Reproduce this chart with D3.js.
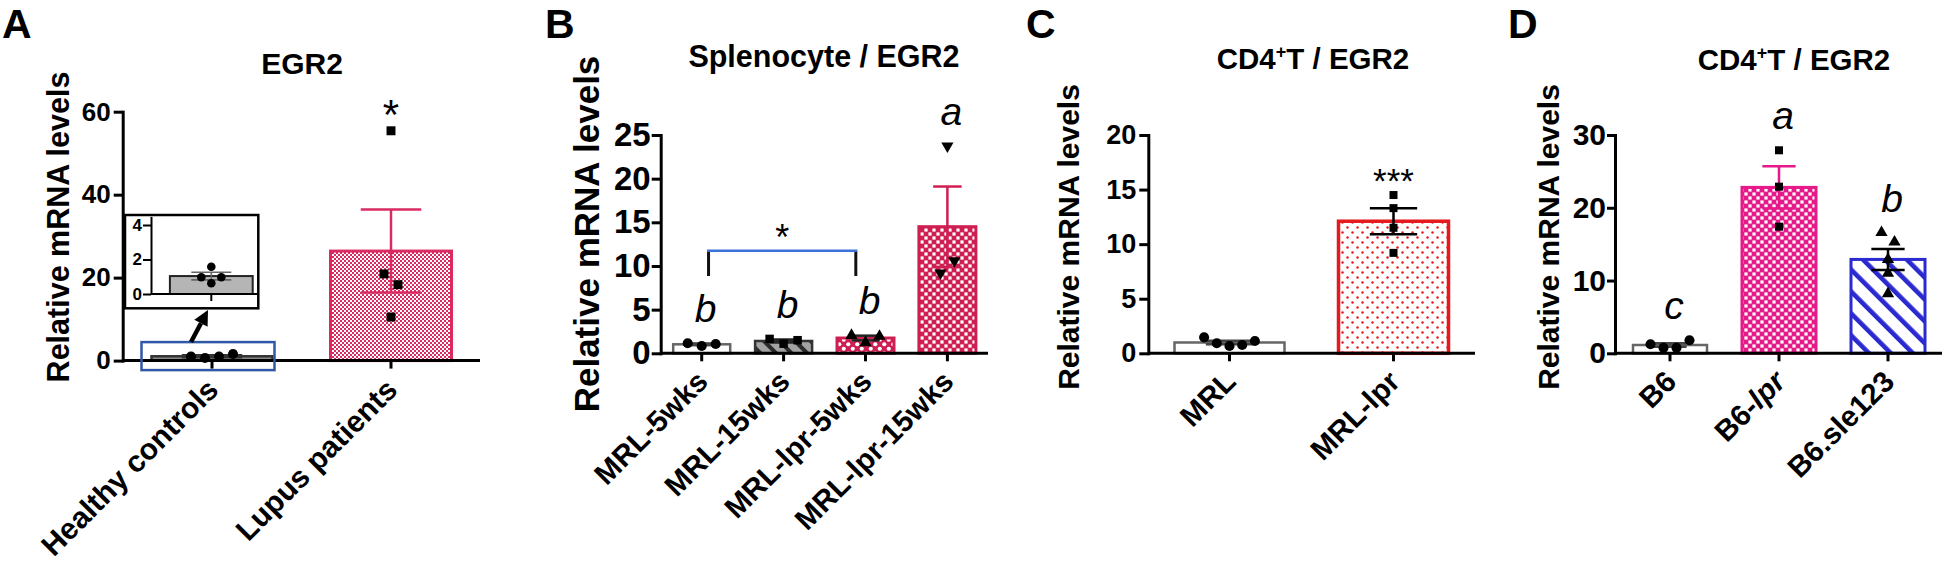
<!DOCTYPE html>
<html><head><meta charset="utf-8">
<script src="https://cdn.jsdelivr.net/npm/d3@7/dist/d3.min.js"></script>
<style>
html,body{margin:0;padding:0;background:#fff;overflow:hidden;}
</style></head><body>
<svg id="fig" width="1946" height="565" xmlns="http://www.w3.org/2000/svg"></svg>
<script>
// ================= DATA =================
// Panel A
const catsA = ["Healthy controls", "Lupus patients"];
const meanA = [1.04, 26.4];
const semA = [0.22, 10.0];
const pointsA = [[0.97, 0.62, 0.97, 1.58], [55.4, 20.9, 18.3, 10.5]];
const ticksA = [0, 20, 40, 60];
const ticksInset = [0, 2, 4];
const sigA = ["", "*"];
// Panel B
const catsB = ["MRL-5wks", "MRL-15wks", "MRL-lpr-5wks", "MRL-lpr-15wks"];
const meanB = [1.03, 1.41, 1.75, 14.5];
const semB = [0.1, 0.17, 0.27, 4.6];
const pointsB = [[1.15, 0.84, 1.07], [1.65, 1.1, 1.5], [2.05, 1.2, 1.95], [23.75, 9.2, 10.6]];
const ticksB = [0, 5, 10, 15, 20, 25];
const lettersB = ["b", "b", "b", "a"];
const bracketB = { from: 0, to: 2, level: 11.75, drop: 8.85, label: "*" };
// Panel C
const catsC = ["MRL", "MRL-lpr"];
const meanC = [0.99, 12.1];
const semC = [0.15, 1.2];
const pointsC = [[1.46, 0.92, 0.67, 0.76, 1.13], [14.5, 13.3, 11.5, 9.2]];
const ticksC = [0, 5, 10, 15, 20];
const sigC = ["", "***"];
// Panel D
const catsD = ["B6", "B6-lpr", "B6.sle123"];
const meanD = [1.14, 22.8, 12.9];
const semD = [0.25, 2.9, 1.45];
const pointsD = [[1.25, 0.75, 0.75, 1.8], [27.9, 22.9, 17.4], [16.6, 15.3, 12.9, 11.0, 8.2]];
const ticksD = [0, 10, 20, 30];
const lettersD = ["c", "a", "b"];

const yLabel = "Relative mRNA levels";

// ================= DRAWING =================
const FONT = '"Liberation Sans", Arial, Helvetica, sans-serif';
const svg = d3.select("#fig");
svg.append("rect").attr("width", 1946).attr("height", 565).attr("fill", "#fff");
const defs = svg.append("defs");

const CRIMSON = "#cf1f52", PINK = "#d92a62", RED = "#e51a1f", MAG = "#e6198a", BLUE = "#2a2ad0";

function checker(id, color, tile, sq, bg) {
  const p = defs.append("pattern").attr("id", id).attr("patternUnits", "userSpaceOnUse")
    .attr("width", tile).attr("height", tile);
  p.append("rect").attr("width", tile).attr("height", tile).attr("fill", bg);
  const h = tile / 2, o = (h - sq) / 2;
  p.append("rect").attr("x", o).attr("y", o).attr("width", sq).attr("height", sq).attr("fill", color === bg ? "#fff" : color);
  p.append("rect").attr("x", h + o).attr("y", h + o).attr("width", sq).attr("height", sq).attr("fill", color === bg ? "#fff" : color);
}
checker("chkA", PINK, 4, 2, "#fff");
checker("chkB", CRIMSON, 8, 3.2, CRIMSON);
checker("chkD", MAG, 8, 3.2, MAG);
(function () {
  const p = defs.append("pattern").attr("id", "dotsB").attr("patternUnits", "userSpaceOnUse").attr("width", 9).attr("height", 9);
  p.append("rect").attr("width", 9).attr("height", 9).attr("fill", CRIMSON);
  p.append("circle").attr("cx", 2.25).attr("cy", 2.25).attr("r", 2.1).attr("fill", "#fff");
  p.append("circle").attr("cx", 6.75).attr("cy", 6.75).attr("r", 2.1).attr("fill", "#fff");
})();
(function () {
  const p = defs.append("pattern").attr("id", "dotsC").attr("patternUnits", "userSpaceOnUse").attr("width", 10).attr("height", 10);
  p.append("rect").attr("width", 10).attr("height", 10).attr("fill", "#fff");
  p.append("circle").attr("cx", 2.5).attr("cy", 2.5).attr("r", 1.25).attr("fill", RED);
  p.append("circle").attr("cx", 7.5).attr("cy", 7.5).attr("r", 1.25).attr("fill", RED);
})();
function stripes(id, bg, col, tile, w) {
  const p = defs.append("pattern").attr("id", id).attr("patternUnits", "userSpaceOnUse")
    .attr("width", tile).attr("height", tile).attr("patternTransform", "rotate(-45)");
  p.append("rect").attr("width", tile).attr("height", tile).attr("fill", bg);
  p.append("rect").attr("x", 0).attr("y", 0).attr("width", w).attr("height", tile).attr("fill", col);
}
stripes("strGrey", "#a3a3a3", "#2b2b2b", 11, 4);
stripes("strBlue", "#fff", BLUE, 15.5, 4.6);

function spread(vals, y, thr, gap) {
  const idx = vals.map((v, i) => i).sort((a, b) => vals[a] - vals[b]);
  const groups = [];
  idx.forEach(i => {
    const last = groups[groups.length - 1];
    if (last && Math.abs(y(vals[i]) - y(vals[last[0]])) < thr) last.push(i); else groups.push([i]);
  });
  const off = new Array(vals.length).fill(0);
  groups.forEach(gr => { gr.sort((a, b) => a - b); gr.forEach((i, k) => off[i] = (k - (gr.length - 1) / 2) * gap); });
  return off;
}

const SYM = {
  circle: [d3.symbolCircle, 0], square: [d3.symbolSquare, 0],
  triangle: [d3.symbolTriangle, 0], triangleDown: [d3.symbolTriangle, 180]
};
function marker(g, type, x, y, size) {
  const [t, rot] = SYM[type];
  g.append("path").attr("d", d3.symbol().type(t).size(size[type])())
    .attr("transform", `translate(${x},${y}) rotate(${rot})`).attr("fill", "#000");
}

function drawPanel(cfg) {
  const g = svg.append("g");
  const n = cfg.cats.length;
  const s = cfg.step, pad = 1 - cfg.barW / s;
  const x = d3.scaleBand().domain(cfg.cats)
    .range([cfg.c0 - s / 2, cfg.c0 - s / 2 + n * s]).paddingInner(pad).paddingOuter(pad / 2);
  const y = d3.scaleLinear().domain([0, cfg.yMax]).range([cfg.y0, cfg.yTop]);
  const bw = x.bandwidth();
  const cx = c => x(c) + bw / 2;

  g.selectAll("rect.bar").data(cfg.cats).join("rect").attr("class", "bar")
    .attr("x", c => x(c)).attr("y", (c, i) => y(cfg.mean[i]))
    .attr("width", bw).attr("height", (c, i) => y(0) - y(cfg.mean[i]))
    .attr("fill", (c, i) => cfg.fill[i]).attr("stroke", (c, i) => cfg.stroke[i])
    .attr("stroke-width", (c, i) => cfg.barSW[i]);

  cfg.cats.forEach((c, i) => {
    const m = cfg.mean[i], e = cfg.sem[i], X = cx(c), hw = bw * cfg.capFrac / 2;
    const eg = g.append("g").attr("stroke", cfg.errCol[i]).attr("stroke-width", 2.5);
    eg.append("line").attr("x1", X).attr("x2", X).attr("y1", y(Math.max(0, m - e))).attr("y2", y(m + e));
    [m + e, m - e].forEach(v => eg.append("line").attr("x1", X - hw).attr("x2", X + hw).attr("y1", y(v)).attr("y2", y(v)));
  });

  cfg.cats.forEach((c, i) => {
    const vals = cfg.points[i];
    const off = spread(vals, y, cfg.thr, cfg.gap);
    vals.forEach((v, j) => marker(g, cfg.markers[i], cx(c) + off[j], y(v), cfg.msize));
  });

  const ya = g.append("g").attr("transform", `translate(${cfg.axX},0)`)
    .call(d3.axisLeft(y).tickValues(cfg.ticks).tickSize(cfg.tickLen).tickPadding(cfg.tickPad)
      .tickSizeOuter(0).tickFormat(d3.format("d")));
  ya.attr("font-family", FONT).attr("font-size", cfg.tickFont).attr("font-weight", "bold");
  ya.selectAll("path,line").attr("stroke", "#000").attr("stroke-width", 3);
  ya.select(".domain").attr("stroke-linecap", "square");
  ya.selectAll("text").attr("fill", "#000");

  g.append("line").attr("x1", cfg.axX).attr("x2", cfg.xEnd).attr("y1", cfg.y0).attr("y2", cfg.y0)
    .attr("stroke", "#000").attr("stroke-width", 3);
  const xa = g.append("g").attr("transform", `translate(0,${cfg.y0})`)
    .call(d3.axisBottom(x).tickSize(cfg.xTickLen).tickSizeOuter(0));
  xa.select(".domain").remove();
  xa.attr("font-family", FONT).attr("font-size", cfg.xFont).attr("font-weight", "bold");
  xa.selectAll("line").attr("stroke", "#000").attr("stroke-width", 3);
  xa.selectAll("text").attr("y", 0).attr("dy", 0).attr("fill", "#000")
    .attr("text-anchor", "end")
    .attr("transform", `translate(${cfg.lblDx},${cfg.lblDy}) rotate(-45)`)
    .each(function (d) {
      if (cfg.italicLpr && /-lpr$/.test(d)) {
        const t = d3.select(this); t.text("");
        t.append("tspan").text(d.replace(/lpr$/, ""));
        t.append("tspan").attr("font-style", "italic").text("lpr");
      }
    });

  g.append("text").attr("transform", `translate(${cfg.ylX},${cfg.ylY}) rotate(-90)`)
    .attr("text-anchor", "middle").attr("font-family", FONT).attr("font-weight", "bold")
    .attr("font-size", cfg.ylFont).attr("fill", "#000").text(yLabel);

  if (cfg.letters) {
    cfg.cats.forEach((c, i) => {
      const top = Math.max(d3.max(cfg.points[i]), cfg.mean[i] + cfg.sem[i]);
      g.append("text").attr("x", cx(c) + 4).attr("y", y(top) - 21)
        .attr("text-anchor", "middle").attr("font-family", FONT).attr("font-style", "italic")
        .attr("font-size", 39).attr("fill", "#000").text(cfg.letters[i]);
    });
  }
  if (cfg.stars) {
    cfg.cats.forEach((c, i) => {
      if (!cfg.stars[i]) return;
      g.append("text").attr("x", cx(c)).attr("y", y(d3.max(cfg.points[i])) - 2)
        .attr("text-anchor", "middle").attr("font-family", FONT)
        .attr("font-size", cfg.starFont).attr("fill", "#000").text(cfg.stars[i]);
    });
  }
  return { g, x, y, bw, cx };
}

// ---------- Panel A ----------
const pA = drawPanel({
  cats: catsA, mean: meanA, sem: semA, points: pointsA, ticks: ticksA,
  c0: 212, step: 179, barW: 121, yMax: 60, y0: 360.6, yTop: 111.7, axX: 122.7, xEnd: 480,
  tickFont: 26, tickLen: 9, tickPad: 3, xTickLen: 8, xFont: 30, lblDx: 8, lblDy: 31,
  fill: ["#8a8a8a", "url(#chkA)"], stroke: ["#333", PINK], barSW: [2.5, 3],
  errCol: ["#333", PINK], capFrac: 0.5, markers: ["circle", "square"],
  msize: { circle: 80, square: 80, triangle: 70 }, thr: 12, gap: 14,
  ylX: 69, ylY: 227, ylFont: 30.5, stars: sigA, starFont: 42
});

// inset of panel A
(function () {
  const g = svg.append("g");
  const boxX = 125, boxY = 215, boxW = 133.3, boxH = 93.3;
  g.append("rect").attr("x", boxX).attr("y", boxY).attr("width", boxW).attr("height", boxH)
    .attr("fill", "#fff").attr("stroke", "#000").attr("stroke-width", 2.5);
  const yi = d3.scaleLinear().domain([0, 4.5]).range([294, 294 - 4.5 * 17.25]);
  const xi = d3.scaleBand().domain([catsA[0]]).range([151.3, 271.3]).paddingInner(0.31).paddingOuter(0.155);
  const bw = xi.bandwidth(), X = xi(catsA[0]) + bw / 2;
  g.append("rect").attr("x", xi(catsA[0])).attr("y", yi(meanA[0])).attr("width", bw)
    .attr("height", yi(0) - yi(meanA[0])).attr("fill", "#b5b5b5").attr("stroke", "#222").attr("stroke-width", 2);
  const eg = g.append("g").attr("stroke", "#666").attr("stroke-width", 1.6);
  eg.append("line").attr("x1", X).attr("x2", X).attr("y1", yi(meanA[0] - semA[0])).attr("y2", yi(meanA[0] + semA[0]));
  [meanA[0] + semA[0], meanA[0] - semA[0]].forEach(v => eg.append("line")
    .attr("x1", X - 20).attr("x2", X + 20).attr("y1", yi(v)).attr("y2", yi(v)));
  const off = spread(pointsA[0], yi, 5, 20);
  pointsA[0].forEach((v, j) => g.append("circle").attr("cx", X + off[j]).attr("cy", yi(v)).attr("r", 4.3).attr("fill", "#000"));
  const ya = g.append("g").attr("transform", "translate(151,0)")
    .call(d3.axisLeft(yi).tickValues(ticksInset).tickSize(8).tickPadding(1).tickSizeOuter(0).tickFormat(d3.format("d")));
  ya.attr("font-family", FONT).attr("font-size", 17).attr("font-weight", "bold");
  ya.selectAll("path,line").attr("stroke", "#000").attr("stroke-width", 2);
  ya.selectAll("text").attr("fill", "#000");
  g.append("line").attr("x1", 151).attr("x2", boxX + boxW).attr("y1", 294).attr("y2", 294).attr("stroke", "#000").attr("stroke-width", 2);
  g.append("line").attr("x1", X).attr("x2", X).attr("y1", 294).attr("y2", 301).attr("stroke", "#000").attr("stroke-width", 2);

  const bx = pA.x(catsA[0]) - 10, bwid = pA.bw + 12;
  g.append("rect").attr("x", bx).attr("y", pA.y(0) - 18.5).attr("width", bwid).attr("height", 28)
    .attr("fill", "none").attr("stroke", "#2f58a8").attr("stroke-width", 2.5);
  const S = [191, 342], T = [208, 310];
  const dx = T[0] - S[0], dy = T[1] - S[1], L = Math.hypot(dx, dy), ux = dx / L, uy = dy / L;
  const Bc = [T[0] - 15 * ux, T[1] - 15 * uy], nx = -uy, ny = ux;
  g.append("line").attr("x1", S[0]).attr("y1", S[1]).attr("x2", Bc[0]).attr("y2", Bc[1])
    .attr("stroke", "#000").attr("stroke-width", 4.5);
  g.append("path").attr("d", `M${T[0]},${T[1]}L${Bc[0] + 7.5 * nx},${Bc[1] + 7.5 * ny}L${Bc[0] - 7.5 * nx},${Bc[1] - 7.5 * ny}Z`)
    .attr("fill", "#000");
})();

// ---------- Panel B ----------
const pB = drawPanel({
  cats: catsB, mean: meanB, sem: semB, points: pointsB, ticks: ticksB,
  c0: 701.7, step: 81.9, barW: 57, yMax: 25, y0: 353.3, yTop: 135, axX: 660.7, xEnd: 988,
  tickFont: 33, tickLen: 9, tickPad: 1, xTickLen: 8, xFont: 29.5, lblDx: 8, lblDy: 30,
  fill: ["#fff", "url(#strGrey)", "url(#dotsB)", "url(#chkB)"],
  stroke: ["#666", "#333", CRIMSON, CRIMSON], barSW: [2.5, 2.5, 3, 3],
  errCol: ["#444", "#222", "#222", CRIMSON], capFrac: 0.5,
  markers: ["circle", "square", "triangle", "triangleDown"],
  msize: { circle: 80, square: 72, triangle: 65, triangleDown: 65 }, thr: 14, gap: 14,
  ylX: 599, ylY: 234, ylFont: 35, letters: lettersB
});
(function () {
  const g = pB.g, y = pB.y;
  const xl = pB.cx(catsB[bracketB.from]) + 0.12 * pB.bw, xr = pB.cx(catsB[bracketB.to]) - 0.17 * pB.bw;
  [xl, xr].forEach(xx => g.append("line").attr("x1", xx).attr("x2", xx)
    .attr("y1", y(bracketB.level)).attr("y2", y(bracketB.drop)).attr("stroke", "#111").attr("stroke-width", 3));
  g.append("line").attr("x1", xl - 1.5).attr("x2", xr + 1.5).attr("y1", y(bracketB.level)).attr("y2", y(bracketB.level))
    .attr("stroke", "#3b73d9").attr("stroke-width", 2.5);
  g.append("text").attr("x", (xl + xr) / 2).attr("y", y(bracketB.level) - 1).attr("text-anchor", "middle")
    .attr("font-family", FONT).attr("font-size", 36).attr("fill", "#000").text(bracketB.label);
})();

// ---------- Panel C ----------
drawPanel({
  cats: catsC, mean: meanC, sem: semC, points: pointsC, ticks: ticksC,
  c0: 1229.5, step: 164, barW: 110, yMax: 20, y0: 353.3, yTop: 135, axX: 1148.3, xEnd: 1475,
  tickFont: 27, tickLen: 9, tickPad: 3, xTickLen: 8, xFont: 29.5, lblDx: 8, lblDy: 30,
  fill: ["#fff", "url(#dotsC)"], stroke: ["#666", RED], barSW: [2.5, 3.5],
  errCol: ["#444", "#000"], capFrac: 0.43, markers: ["circle", "square"],
  msize: { circle: 80, square: 64 }, thr: 10, gap: 12.7,
  ylX: 1079, ylY: 237, ylFont: 30, stars: sigC, starFont: 35
});

// ---------- Panel D ----------
drawPanel({
  cats: catsD, mean: meanD, sem: semD, points: pointsD, ticks: ticksD,
  c0: 1670, step: 109, barW: 74, yMax: 30, y0: 353.3, yTop: 135, axX: 1615, xEnd: 1942,
  tickFont: 30, tickLen: 8, tickPad: 1, xTickLen: 8, xFont: 29.5, lblDx: 8, lblDy: 30,
  fill: ["#fff", "url(#chkD)", "url(#strBlue)"], stroke: ["#666", MAG, BLUE], barSW: [2.5, 3, 3],
  errCol: ["#444", MAG, "#000"], capFrac: 0.45, markers: ["circle", "square", "triangle"],
  msize: { circle: 80, square: 64, triangle: 65 }, thr: 11, gap: 13, italicLpr: true,
  ylX: 1559, ylY: 237, ylFont: 30, letters: lettersD
});

// ---------- titles & panel letters ----------
function txt(x, y, size, s, anchor) {
  return svg.append("text").attr("x", x).attr("y", y).attr("font-family", FONT).attr("font-weight", "bold")
    .attr("font-size", size).attr("fill", "#000").attr("text-anchor", anchor || "start").text(s);
}
txt(302, 74, 30, "EGR2", "middle");
txt(824, 67, 30.5, "Splenocyte / EGR2", "middle");
[[1313, 68.5], [1794, 70]].forEach(([x, y]) => {
  const t = svg.append("text").attr("x", x).attr("y", y).attr("font-family", FONT).attr("font-weight", "bold")
    .attr("font-size", 29.5).attr("fill", "#000").attr("text-anchor", "middle");
  t.append("tspan").text("CD4");
  t.append("tspan").attr("dy", -11).attr("font-size", 18).text("+");
  t.append("tspan").attr("dy", 11).text("T / EGR2");
});
txt(2, 38, 41, "A");
txt(545, 38, 41, "B");
txt(1026, 38, 41, "C");
txt(1508, 38, 41, "D");
</script>
</body></html>
